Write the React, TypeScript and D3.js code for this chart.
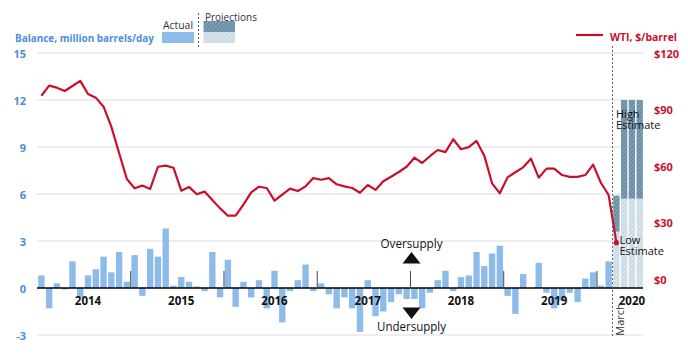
import React from "react";
import * as d3 from "d3";

const balanceActual: number[] = [
  0.8, -1.3, 0.3, -0.1, 1.7, -0.6, 0.8, 1.2, 2.0, 1.0, 2.3, 0.4,
  2.1, -0.5, 2.5, 2.0, 3.8, 0.15, 0.7, 0.4, 0.1, -0.2, 2.3, -0.6,
  1.8, -1.2, 0.4, -0.6, 0.5, -1.3, 1.1, -2.2, -0.2, 0.5, 1.5, -0.2,
  0.3, -0.4, -1.3, -0.6, -1.3, -2.8, 0.5, -1.8, -1.5, -0.9, -0.4, -0.7,
  -0.7, -1.3, -0.3, 0.5, 1.1, -0.2, 0.7, 0.8, 2.3, 1.4, 2.2, 2.7,
  -0.5, -1.65, 0.9, 0, 1.6, -0.3, -1.3, -0.8, -0.3, -0.9, 0.6, 1.0,
  0.15, 1.7,
];
const projStart = 74;
const projLow: number[] = [3.6, 5.7, 5.7, 5.7];
const projHigh: number[] = [5.9, 12, 12, 12];
const wti: number[] = [
  97.3, 102.7, 101.6, 99.8, 102.5, 105.2, 98.2, 96.3, 91.5, 80.9, 66.9, 53.1,
  48.2, 49.6, 47.8, 59.6, 60.2, 59.1, 46.9, 48.9, 45.0, 46.4, 42.0, 37.5,
  33.6, 33.6, 39.5, 46.0, 49.0, 48.3, 41.6, 44.8, 48.0, 46.7, 49.2, 53.6,
  52.7, 53.6, 50.3, 49.2, 48.3, 45.8, 49.9, 47.3, 51.9, 54.3, 56.8, 59.6,
  64.4, 61.6, 65.2, 68.5, 67.4, 74.2, 68.9, 70.0, 73.3, 65.5, 50.8, 45.5,
  54.0, 56.7, 59.3, 63.9, 53.8, 58.6, 58.6, 55.2, 54.2, 54.2, 55.2, 60.7,
  51.1, 44.6, 19.3,
];
const leftTicks: number[] = [-3, 0, 3, 6, 9, 12, 15];
const rightTicks: number[] = [0, 30, 60, 90, 120];
const years: string[] = ["2014", "2015", "2016", "2017", "2018", "2019", "2020"];
const yearLabelMonth: number[] = [6, 18, 30, 42, 54, 66, 76];
const yearBoundaries: number[] = [12, 24, 36, 48, 60, 72];

const BLUE = "#4a8fdb";
const BAR = "#8dbbea";
const RED = "#c8102e";
const FONT = "'Open Sans', 'DejaVu Sans', sans-serif";

export default function App() {
  const W = 688, H = 357;
  const nMonths = 78;
  const x = d3.scaleBand<number>().domain(d3.range(nMonths)).range([37.5, 643.6]).paddingInner(0.18).paddingOuter(0.09);
  const bw = x.bandwidth();
  const step = x.step();
  const gap = step - bw;
  const yL = d3.scaleLinear().domain([-3, 15]).range([335, 53]);
  const yR = d3.scaleLinear().domain([0, 120]).range([279, 53]);
  const x0 = 37, x1 = 643;
  const cx = (i: number) => (x(i) as number) + bw / 2;
  const line = d3.line<number>().x((_, i) => cx(i)).y((d) => yR(d));
  const marchX = (x(projStart) as number) - gap / 2;
  const lastI = wti.length - 1;

  return (
    <svg width={W} height={H} style={{ position: "absolute", left: 0, top: 0, background: "#fff" }} fontFamily={FONT}>
      <defs>
        <pattern id="hDark" patternUnits="userSpaceOnUse" width="3" height="3" patternTransform="rotate(45)">
          <rect width="3" height="3" fill="#6a8ea6" />
          <line x1="0" y1="0" x2="0" y2="3" stroke="#98b4c7" strokeWidth="1.2" />
        </pattern>
        <pattern id="hLight" patternUnits="userSpaceOnUse" width="3" height="3" patternTransform="rotate(45)">
          <rect width="3" height="3" fill="#cbd9e4" />
          <line x1="0" y1="0" x2="0" y2="3" stroke="#eef3f6" strokeWidth="1.2" />
        </pattern>
      </defs>

      {leftTicks.filter((t) => t !== 0).map((t) => (
        <line key={"g" + t} x1={x0} x2={x1} y1={yL(t)} y2={yL(t)} stroke="#dcdcdc" strokeWidth={1} />
      ))}

      {leftTicks.map((t) => (
        <text key={"l" + t} x={26} y={yL(t)} textAnchor="end" dominantBaseline="central" fill={BLUE} fontWeight="bold" fontSize={11}>
          {t}
        </text>
      ))}
      {rightTicks.map((t) => (
        <text key={"r" + t} x={654} y={yR(t)} textAnchor="start" dominantBaseline="central" fill={RED} fontWeight="bold" fontSize={11}>
          {"$" + t}
        </text>
      ))}

      {balanceActual.map((v, i) => (
        <rect key={"b" + i} x={x(i)} width={bw} y={yL(Math.max(0, v))} height={Math.abs(yL(v) - yL(0))} fill={BAR} />
      ))}

      {projLow.map((v, j) => {
        const i = projStart + j;
        return (
          <g key={"p" + j}>
            <rect x={x(i)} width={bw} y={yL(v)} height={yL(0) - yL(v)} fill="url(#hLight)" />
            <rect x={x(i)} width={bw} y={yL(projHigh[j])} height={yL(v) - yL(projHigh[j])} fill="url(#hDark)" />
          </g>
        );
      })}

      <line x1={x0} x2={x1} y1={yL(0)} y2={yL(0)} stroke="#000" strokeWidth={1.5} />
      {yearBoundaries.map((m) => {
        const xx = (x(m) as number) - gap / 2;
        return <line key={"t" + m} x1={xx} x2={xx} y1={yL(0)} y2={yL(0) - 17} stroke="#444" strokeWidth={1} />;
      })}
      {years.map((y, k) => (
        <text key={y} x={cx(yearLabelMonth[k])} y={300} textAnchor="middle" dominantBaseline="central" fontWeight="bold" fontSize={11.5} fill="#111">
          {y}
        </text>
      ))}

      <line x1={marchX} x2={marchX} y1={46} y2={337} stroke="#666" strokeWidth={1} strokeDasharray="2,2" />
      <text transform={`translate(${cx(projStart) + 3},319.5) rotate(-90)`} textAnchor="middle" dominantBaseline="central" fontSize={11} fill="#333">
        March
      </text>

      <path d={line(wti) || ""} fill="none" stroke={RED} strokeWidth={2.2} strokeLinejoin="round" />
      <circle cx={cx(lastI)} cy={yR(wti[lastI])} r={2.6} fill={RED} />

      <text x={616} y={118} fontSize={11} fill="#111">
        <tspan x={616}>High</tspan>
        <tspan x={616} dy={11}>Estimate</tspan>
      </text>
      <text x={619.5} y={244} fontSize={11} fill="#111">
        <tspan x={619.5}>Low</tspan>
        <tspan x={619.5} dy={11}>Estimate</tspan>
      </text>

      <text x={411.5} y={243.5} textAnchor="middle" dominantBaseline="central" fontSize={12.5} fill="#111" textLength={62} lengthAdjust="spacingAndGlyphs">Oversupply</text>
      <path d={`M${402.5},263.5 L${420.5},263.5 L${411.5},252 Z`} fill="#111" />
      <path d={`M${402.5},307.5 L${420.5},307.5 L${411.5},319 Z`} fill="#111" />
      <text x={411.5} y={326.5} textAnchor="middle" dominantBaseline="central" fontSize={12.5} fill="#111" textLength={69} lengthAdjust="spacingAndGlyphs">Undersupply</text>

      <text x={15} y={37} dominantBaseline="central" fontWeight="bold" fontSize={11} fill={BLUE} textLength={139} lengthAdjust="spacingAndGlyphs">
        Balance, million barrels/day
      </text>
      <text x={178} y={24} textAnchor="middle" dominantBaseline="central" fontSize={11} fill="#333" textLength={30} lengthAdjust="spacingAndGlyphs">Actual</text>
      <rect x={162} y={32} width={32} height={11} fill={BAR} />
      <line x1={198.5} x2={198.5} y1={13} y2={49} stroke="#555" strokeWidth={1} strokeDasharray="2,2" />
      <text x={205} y={16} dominantBaseline="central" fontSize={11} fill="#333" textLength={52} lengthAdjust="spacingAndGlyphs">Projections</text>
      <rect x={203.5} y={21} width={31.5} height={11} fill="url(#hDark)" />
      <rect x={203.5} y={32} width={31.5} height={11} fill="url(#hLight)" />

      <line x1={576} x2={603} y1={35} y2={35} stroke={RED} strokeWidth={2.2} />
      <text x={610} y={36} dominantBaseline="central" fontWeight="bold" fontSize={11} fill={RED} textLength={67} lengthAdjust="spacingAndGlyphs">
        WTI, $/barrel
      </text>
    </svg>
  );
}
